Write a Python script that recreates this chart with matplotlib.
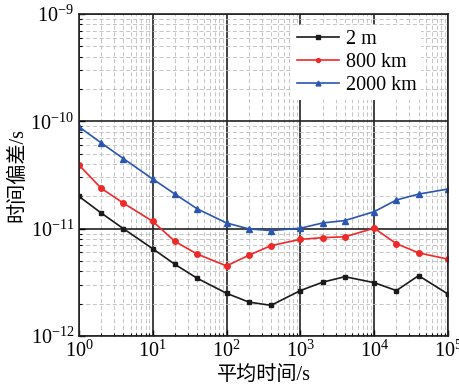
import matplotlib.pyplot as plt
import numpy as np

plt.rcParams['font.family'] = ['Liberation Serif', 'Noto Sans CJK SC']
plt.rcParams['mathtext.fontset'] = 'stix'

tau = [1, 2, 4, 10, 20, 40, 100, 200, 400, 1000, 2000, 4000, 1e4, 2e4, 4e4, 1e5]
dev_2m = [2.0e-11, 1.40e-11, 1.0e-11, 6.5e-12, 4.65e-12, 3.45e-12, 2.5e-12, 2.07e-12,
          1.93e-12, 2.65e-12, 3.17e-12, 3.57e-12, 3.14e-12, 2.65e-12, 3.65e-12, 2.46e-12]
dev_800 = [3.92e-11, 2.38e-11, 1.73e-11, 1.17e-11, 7.6e-12, 5.8e-12, 4.5e-12, 5.65e-12,
           6.95e-12, 7.95e-12, 8.25e-12, 8.4e-12, 1.01e-11, 7.25e-12, 5.95e-12, 5.2e-12]
dev_2000 = [8.9e-11, 6.3e-11, 4.5e-11, 2.9e-11, 2.1e-11, 1.53e-11, 1.13e-11, 9.95e-12,
            9.6e-12, 1.01e-11, 1.13e-11, 1.19e-11, 1.44e-11, 1.85e-11, 2.1e-11, 2.34e-11]

fig = plt.figure(figsize=(4.59, 3.84), dpi=100)
ax = fig.add_axes([0.172, 0.125, 0.804, 0.8385])

ax.plot(tau, dev_2m, color='#1a1a1a', marker='s', ms=3.5, lw=1.2, label='2 m')
ax.plot(tau, dev_800, color='#f02828', marker='o', ms=4, lw=1.2, label='800 km')
ax.plot(tau, dev_2000, color='#2a56b0', marker='^', ms=5, lw=1.2, label='2000 km')

ax.set_xscale('log')
ax.set_yscale('log')
ax.set_xlim(1, 1e5)
ax.set_ylim(1e-12, 1e-9)

ax.grid(True, which='major', color='#222222', lw=1.2, ls='-')
ax.grid(True, which='minor', color='#bbbbbb', lw=0.6, ls=(0, (5, 3)))
ax.set_axisbelow(True)
ax.tick_params(which='both', direction='in', labelsize=14.5)
ax.tick_params(which='major', length=4, width=1)
ax.tick_params(which='minor', length=2.5, width=0.8)
for s in ax.spines.values():
    s.set_color('#222222')
    s.set_linewidth(1.2)

ax.set_xlabel('平均时间/s', fontsize=14.5, labelpad=3,
              family=['Liberation Serif', 'Noto Sans CJK SC'])
ax.set_ylabel('时间偏差/s', fontsize=14.5, labelpad=2,
              family=['Liberation Serif', 'Noto Sans CJK SC'])

leg = ax.legend(loc='upper right', bbox_to_anchor=(0.955, 0.998), fontsize=14.5,
                frameon=True, fancybox=False, edgecolor='none', framealpha=1,
                handlelength=2.1, handletextpad=0.3, borderpad=0.25,
                labelspacing=0.2, markerscale=0.7)

fig.savefig('out.png', dpi=100)
